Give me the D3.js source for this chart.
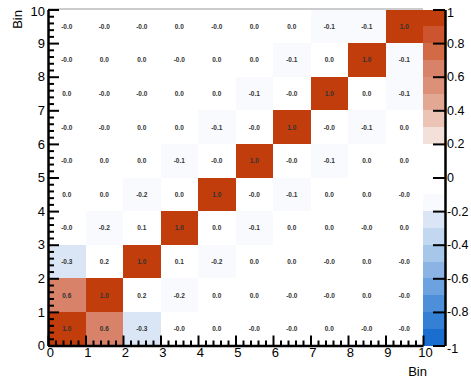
<!DOCTYPE html>
<html>
<head>
<meta charset="utf-8">
<script src="https://cdn.jsdelivr.net/npm/d3@7"></script>
<style>
  html, body { margin: 0; padding: 0; background: #fff; }
  svg { display: block; font-family: "Liberation Sans", Arial, Helvetica, sans-serif; }
</style>
</head>
<body>
<svg id="chart" width="471" height="379"></svg>
<script>
// Bin edges along both axes
const binEdges = [0, 1, 2, 3, 4, 5, 6, 7, 8, 9, 10];
const axisTicks = [0, 1, 2, 3, 4, 5, 6, 7, 8, 9, 10];
const zTicks = [-1, -0.8, -0.6, -0.4, -0.2, 0, 0.2, 0.4, 0.6, 0.8, 1];

// Correlation matrix, one row per y bin (row 0 = bottom bin), one column per x bin
const row0 = [1.0, 0.6, -0.26, -0.01, 0.01, -0.01, -0.01, 0.01, -0.01, -0.01];
const row1 = [0.6, 1.0, 0.18, -0.18, 0.01, 0.01, -0.01, -0.01, 0.01, -0.01];
const row2 = [-0.26, 0.18, 1.0, 0.1, -0.18, 0.01, 0.01, -0.01, 0.01, -0.01];
const row3 = [-0.01, -0.18, 0.1, 1.0, 0.01, -0.12, 0.01, 0.01, -0.01, 0.01];
const row4 = [0.01, 0.01, -0.18, 0.01, 1.0, -0.01, -0.12, 0.01, 0.01, -0.01];
const row5 = [-0.01, 0.01, 0.01, -0.12, -0.01, 1.0, -0.01, -0.12, 0.01, 0.01];
const row6 = [-0.01, -0.01, 0.01, 0.01, -0.12, -0.01, 1.0, -0.01, -0.12, 0.01];
const row7 = [0.01, -0.01, -0.01, 0.01, 0.01, -0.12, -0.01, 1.0, 0.01, -0.12];
const row8 = [-0.01, 0.01, 0.01, -0.01, 0.01, 0.01, -0.12, 0.01, 1.0, -0.12];
const row9 = [-0.01, -0.01, -0.01, 0.01, -0.01, 0.01, 0.01, -0.12, -0.12, 1.0];
const rows = [row0, row1, row2, row3, row4, row5, row6, row7, row8, row9];

// 20 colour levels from -1 to 1 in steps of 0.1
const palette = [
  "#1a6ecf", "#3380d4", "#4e8fd9", "#6ca2df", "#8bb4e5", "#a6c6ea", "#c2d7f0", "#dae6f5",
  "#f8fafd", "#ffffff", "#ffffff", "#ffffff",
  "#f3e0d8", "#ebc4b6", "#e3a893", "#dc9077", "#d8826a", "#d26a46", "#cc5530", "#c23d0c"
];

const svg = d3.select("#chart");

const x = d3.scaleLinear().domain([0, 10]).range([48, 423]);
const y = d3.scaleLinear().domain([0, 10]).range([345.5, 9.5]);
const z = d3.scaleLinear().domain([-1, 1]).range([345.5, 9.5]);

const levelIndex = v => Math.max(0, Math.min(19, Math.floor((v + 1) * 10 + 1e-9)));
const colorOf = v => palette[levelIndex(v)];

// thin frame line along the top of the plot
svg.append("line")
  .attr("x1", x(0)).attr("x2", x(10))
  .attr("y1", y(10) - 0.5).attr("y2", y(10) - 0.5)
  .attr("stroke", "#999").attr("stroke-width", 1);

// heat-map cells
const cells = [];
rows.forEach((r, j) => r.forEach((v, i) => cells.push({ i, j, v })));

svg.append("g").selectAll("rect").data(cells).join("rect")
  .attr("x", d => x(binEdges[d.i]))
  .attr("y", d => y(binEdges[d.j + 1]))
  .attr("width", d => x(binEdges[d.i + 1]) - x(binEdges[d.i]))
  .attr("height", d => y(binEdges[d.j]) - y(binEdges[d.j + 1]))
  .attr("fill", d => colorOf(d.v))
  .attr("shape-rendering", "crispEdges");

svg.append("g").selectAll("text").data(cells).join("text")
  .attr("x", d => (x(binEdges[d.i]) + x(binEdges[d.i + 1])) / 2)
  .attr("y", d => (y(binEdges[d.j]) + y(binEdges[d.j + 1])) / 2)
  .attr("text-anchor", "middle")
  .attr("dominant-baseline", "central")
  .attr("font-size", 6.5)
  .attr("font-weight", "bold")
  .attr("fill", "#333")
  .text(d => d.v.toFixed(1));

// colour bar
const bands = palette.map((c, k) => ({ lo: -1 + k * 0.1, hi: -1 + (k + 1) * 0.1, c }));
svg.append("g").selectAll("rect").data(bands).join("rect")
  .attr("x", 423)
  .attr("y", d => z(d.hi))
  .attr("width", 22)
  .attr("height", d => z(d.lo) - z(d.hi))
  .attr("fill", d => d.c)
  .attr("shape-rendering", "crispEdges");

const minorTicks = d3.range(0, 50).map(k => k * 0.2).filter(v => v < 10 && Math.abs(v - Math.round(v)) > 1e-6);
const fmtInt = d => String(d);

function styleAxis(g, fontSize) {
  g.select(".domain").attr("stroke", "#000").attr("stroke-width", 2.5);
  g.selectAll(".tick line").attr("stroke", "#000").attr("stroke-width", 2);
  g.selectAll(".tick text").attr("fill", "#000").attr("font-size", fontSize)
    .attr("font-family", "'Liberation Sans', Arial, sans-serif");
}

// left axis
const gyMinor = svg.append("g").attr("transform", `translate(${x(0)},0)`)
  .call(d3.axisLeft(y).tickValues(minorTicks).tickSizeInner(-6).tickSizeOuter(0).tickFormat(""));
gyMinor.select(".domain").remove();
gyMinor.selectAll(".tick line").attr("stroke", "#000").attr("stroke-width", 2);

const gy = svg.append("g").attr("transform", `translate(${x(0)},0)`)
  .call(d3.axisLeft(y).tickValues(axisTicks).tickSizeInner(-11).tickSizeOuter(0).tickPadding(3).tickFormat(fmtInt));
styleAxis(gy, 13);
gy.selectAll(".tick text").filter(d => d === 10).attr("dy", "0.45em");

// bottom axis
const gxMinor = svg.append("g").attr("transform", `translate(0,${y(0)})`)
  .call(d3.axisBottom(x).tickValues(minorTicks).tickSizeInner(-5).tickSizeOuter(0).tickFormat(""));
gxMinor.select(".domain").remove();
gxMinor.selectAll(".tick line").attr("stroke", "#000").attr("stroke-width", 2);

const gx = svg.append("g").attr("transform", `translate(0,${y(0)})`)
  .call(d3.axisBottom(x).tickValues(axisTicks).tickSizeInner(-10).tickSizeOuter(0).tickPadding(2).tickFormat(fmtInt));
styleAxis(gx, 13);
gx.selectAll(".tick text").attr("dx", "0.15em");

// colour-bar axis
const fmtZ = d => String(Math.round(d * 10) / 10);
const gz = svg.append("g").attr("transform", "translate(445,0)")
  .call(d3.axisRight(z).tickValues(zTicks).tickSizeInner(-12).tickSizeOuter(0).tickPadding(2).tickFormat(fmtZ));
styleAxis(gz, 12.5);
gz.selectAll(".tick text").filter(d => d === 1).attr("dy", "0.55em");
gz.selectAll(".tick text").filter(d => d === -1).attr("dy", "0.55em");

// axis titles
svg.append("text")
  .attr("x", 427).attr("y", 376)
  .attr("text-anchor", "end")
  .attr("font-size", 13)
  .text("Bin");

svg.append("text")
  .attr("transform", "translate(22,10) rotate(-90)")
  .attr("text-anchor", "end")
  .attr("font-size", 13)
  .text("Bin");
</script>
</body>
</html>
